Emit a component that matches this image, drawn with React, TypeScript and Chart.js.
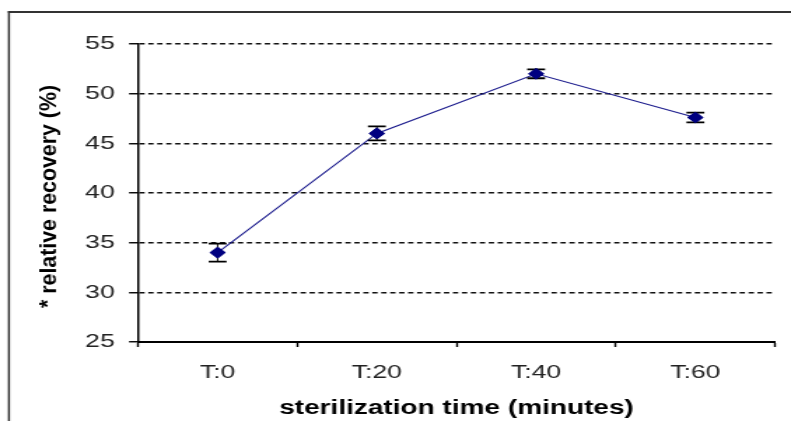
import React, { useEffect, useRef } from "react";
import { Chart, registerables } from "chart.js";

Chart.register(...registerables);

// ---- data ----
const categories = ["T:0", "T:20", "T:40", "T:60"];
const recovery = [34, 46, 52, 47.6];
const errors = [0.9, 0.7, 0.45, 0.5];
const yTicks = [25, 30, 35, 40, 45, 50, 55];
const xTitle = "sterilization time (minutes)";
const yTitle = "* relative recovery (%)";

// ---- layout (the source picture is horizontally stretched) ----
const PAGE_W = 791;
const PAGE_H = 421;
const STRETCH = 1.4;
const CW = Math.round(PAGE_W / STRETCH);

const FONT = "'Liberation Sans', Arial, sans-serif";

const framePlugin = {
  id: "frame",
  beforeDraw(chart: any) {
    const ctx = chart.ctx;
    ctx.save();
    ctx.strokeStyle = "#333";
    ctx.lineWidth = 2;
    ctx.beginPath();
    ctx.moveTo(5.7, 12);
    ctx.lineTo(chart.width + 5, 12);
    ctx.stroke();
    ctx.lineWidth = 1.5;
    ctx.beginPath();
    ctx.moveTo(6.4, 11);
    ctx.lineTo(6.4, chart.height + 5);
    ctx.stroke();
    ctx.restore();
  },
};

const errorBarPlugin = {
  id: "errorBars",
  afterDatasetsDraw(chart: any) {
    const ctx = chart.ctx;
    const xs = chart.scales.x;
    const ys = chart.scales.y;
    ctx.save();
    ctx.strokeStyle = "#000";
    recovery.forEach((v, i) => {
      const x = xs.getPixelForValue(i);
      const yTop = ys.getPixelForValue(v + errors[i]);
      const yBot = ys.getPixelForValue(v - errors[i]);
      ctx.lineWidth = 1;
      ctx.beginPath();
      ctx.moveTo(x, yTop);
      ctx.lineTo(x, yBot);
      ctx.stroke();
      ctx.lineWidth = 1.8;
      ctx.beginPath();
      ctx.moveTo(x - 6.4, yTop);
      ctx.lineTo(x + 6.4, yTop);
      ctx.moveTo(x - 6.4, yBot);
      ctx.lineTo(x + 6.4, yBot);
      ctx.stroke();
    });
    ctx.restore();
    const meta = chart.getDatasetMeta(0);
    meta.data.forEach((pt: any) => pt.draw(ctx, chart.chartArea));
  },
};

const yTitlePlugin = {
  id: "yTitle",
  afterDraw(chart: any) {
    const ctx = chart.ctx;
    ctx.save();
    ctx.translate(35.7, 196.5);
    ctx.rotate(-Math.PI / 2);
    ctx.font = `bold 16px ${FONT}`;
    const w = ctx.measureText(yTitle).width;
    ctx.scale(223 / w, 1);
    ctx.fillStyle = "#000";
    ctx.textAlign = "center";
    ctx.textBaseline = "middle";
    ctx.fillText(yTitle, 0, 0);
    ctx.restore();
  },
};

export default function App() {
  const ref = useRef<HTMLCanvasElement | null>(null);

  useEffect(() => {
    if (!ref.current) return;
    const chart = new Chart(ref.current, {
      type: "line",
      data: {
        labels: categories,
        datasets: [
          {
            data: recovery,
            borderColor: "#1a1a8c",
            borderWidth: 1.1,
            pointStyle: "rectRot",
            pointRadius: 5,
            pointBackgroundColor: "#000080",
            pointBorderColor: "#000080",
            tension: 0,
          },
        ],
      },
      options: {
        animation: false,
        responsive: false,
        devicePixelRatio: 1,
        layout: { padding: { left: 0, top: 44, right: CW - 775 / STRETCH, bottom: 0 } },
        plugins: {
          legend: { display: false },
          tooltip: { enabled: false },
        },
        scales: {
          x: {
            type: "category",
            offset: true,
            afterFit: (s: any) => {
              s.height = PAGE_H - 342;
            },
            grid: {
              offset: true,
              drawOnChartArea: false,
              drawTicks: true,
              tickLength: 5,
              tickColor: "#000",
              tickWidth: 1.4,
              color: "#000",
            },
            border: { display: true, color: "#000", width: 2 },
            ticks: {
              padding: 14,
              color: "#222",
              font: { family: FONT, size: 19 },
              maxRotation: 0,
            },
            title: {
              display: true,
              text: xTitle,
              color: "#000",
              font: { family: FONT, size: 20, weight: "bold" },
              padding: { top: 0, bottom: 1 },
            },
          },
          y: {
            min: 25,
            max: 55,
            afterFit: (s: any) => {
              s.width = 138 / STRETCH;
            },
            afterBuildTicks: (s: any) => {
              s.ticks = yTicks.map((v) => ({ value: v }));
            },
            grid: {
              color: "#111",
              lineWidth: 1.5,
              drawTicks: true,
              tickLength: 6.4,
              tickColor: "#000",
              tickWidth: 1.4,
              tickBorderDash: [],
            },
            border: { display: true, color: "#000", width: 1.5, dash: [3.8, 2.6] },
            ticks: {
              padding: 10.2,
              color: "#222",
              font: { family: FONT, size: 19 },
            },
            title: { display: false },
          },
        },
      },
      plugins: [framePlugin, errorBarPlugin, yTitlePlugin],
    });
    return () => chart.destroy();
  }, []);

  return (
    <div style={{ position: "fixed", left: 0, top: 0, width: PAGE_W, height: PAGE_H, background: "#fff" }}>
      <canvas
        ref={ref}
        width={CW}
        height={PAGE_H}
        style={{ width: `${PAGE_W}px`, height: `${PAGE_H}px`, display: "block" }}
      />
    </div>
  );
}
